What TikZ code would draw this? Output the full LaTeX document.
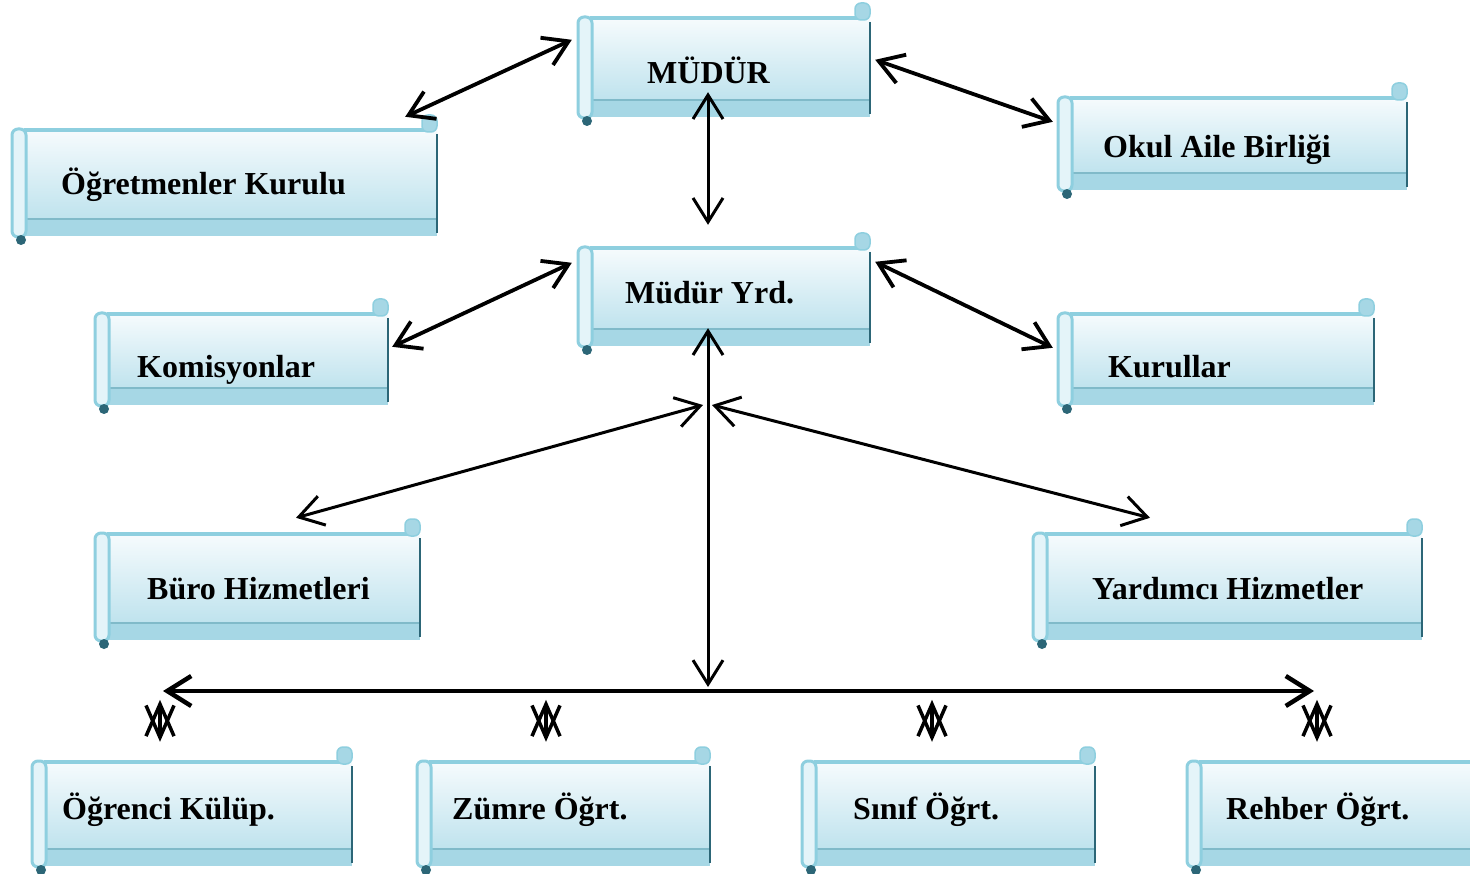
\documentclass[tikz,border=0pt]{standalone}
\usepackage{fontspec}
\setmainfont{Liberation Serif}
\usetikzlibrary{arrows.meta,fit,calc}
\definecolor{edgeC}{HTML}{8ECFDF}
\definecolor{bandC}{HTML}{A6D7E5}
\definecolor{topC}{HTML}{F6FBFD}
\definecolor{botC}{HTML}{BDE2ED}
\definecolor{tubeC}{HTML}{E4F4F9}
\definecolor{darkC}{HTML}{2C6677}
\tikzset{
  lbl/.style={font=\fontsize{32}{38}\selectfont\bfseries, inner sep=0pt, anchor=base west},
  barb/.tip={Straight Barb[length=24pt,width=30pt]},
  sbarb/.tip={Straight Barb[length=32pt,width=28pt]},
  conn/.style={line width=3.8pt, barb-barb},
  thinconn/.style={line width=3pt, barb-barb},
  busline/.style={line width=4.5pt, barb-barb},
  twin/.style={line width=3.5pt, sbarb-sbarb},
}
% name, x1, y1, x2, y2, text x, text baseline, text
\newcommand\scrl[8]{%
  \shade[top color=topC, bottom color=botC] ({#2+12},#3) rectangle (#4,{#5-14});
  \fill[bandC] (#2,{#5-17}) rectangle (#4,#5);
  \draw[edgeC!90!black, line width=1.5pt] ({#2+12},{#5-17}) -- (#4,{#5-17});
  \draw[edgeC, line width=3.5pt] ({#2+12},#3) -- ({#4-6},#3);
  \draw[darkC, line width=1.5pt] (#4,{#3+4}) -- (#4,{#5-3});
  \draw[edgeC, fill=bandC, line width=1.5pt, rounded corners=6pt] ({#4-15},{#3+2}) rectangle (#4,{#3-15});
  \draw[edgeC, fill=tubeC, line width=3pt, rounded corners=6pt] (#2,{#3-1}) rectangle ({#2+14},{#5+1});
  \fill[darkC] ({#2+9},{#5+4}) circle (5);
  \node[fit={(#2,#3) (#4,#5)}, inner sep=0pt] (#1) {};
  \node[lbl] at (#6,#7) {#8};
}
\begin{document}
\begin{tikzpicture}[x=1pt,y=-1pt]
\useasboundingbox (0,0) rectangle (1470,874);
\fill[white] (0,0) rectangle (1470,874);

\scrl{mudur}{578}{18}{870}{117}{647}{84}{MÜDÜR}
\scrl{ogret}{12}{130}{437}{236}{61}{195}{Öğretmenler Kurulu}
\scrl{okul}{1058}{98}{1407}{190}{1103}{158}{Okul Aile Birliği}
\scrl{yrd}{578}{248}{870}{346}{625}{304}{Müdür Yrd.}
\scrl{komis}{95}{314}{388}{405}{137}{378}{Komisyonlar}
\scrl{kurul}{1058}{314}{1374}{405}{1108}{378}{Kurullar}
\scrl{buro}{95}{534}{420}{640}{147}{599}{Büro Hizmetleri}
\scrl{yard}{1033}{534}{1422}{640}{1092}{599}{Yardımcı Hizmetler}
\scrl{ogr}{32}{762}{352}{866}{62}{819}{Öğrenci Külüp.}
\scrl{zum}{417}{762}{710}{866}{452}{819}{Zümre Öğrt.}
\scrl{sin}{802}{762}{1095}{866}{853}{819}{Sınıf Öğrt.}
\scrl{reh}{1187}{762}{1490}{866}{1226}{819}{Rehber Öğrt.}

% connectors
\draw[conn] ($(mudur.north west)+(-6,22)$) -- ($(ogret.north east)+(-32,-13)$);
\draw[conn] ($(mudur.north east)+(5,42)$) -- ($(okul.north west)+(-5,24)$);
\draw[thinconn] ($(mudur.south)+(-16,-25)$) -- ($(yrd.north)+(-16,-23)$);
\draw[conn] ($(yrd.north west)+(-6,15)$) -- ($(komis.north east)+(4,33)$);
\draw[conn] ($(yrd.north east)+(5,14)$) -- ($(kurul.north west)+(-5,34)$);

\coordinate (hubL) at (703,405);
\coordinate (hubR) at (712,405);
\coordinate (busTop) at (708,687);
\coordinate (busL) at (163,691);
\coordinate (busR) at (1314,691);

\draw[thinconn] ($(yrd.south)+(-16,-18)$) -- (busTop);
\draw[thinconn] (hubL) -- ($(buro.north)+(38.5,-16)$);
\draw[thinconn] (hubR) -- ($(yard.north)+(-77.5,-16)$);
\draw[busline] (busL) -- (busR);

\draw[twin] ($(ogr.north)+(-32,-62)$) -- ($(ogr.north)+(-32,-20)$);
\draw[twin] ($(zum.north)+(-17.5,-62)$) -- ($(zum.north)+(-17.5,-20)$);
\draw[twin] ($(sin.north)+(-16.5,-62)$) -- ($(sin.north)+(-16.5,-20)$);
\draw[twin] ($(reh.north)+(-21.5,-62)$) -- ($(reh.north)+(-21.5,-20)$);
\end{tikzpicture}
\end{document}
